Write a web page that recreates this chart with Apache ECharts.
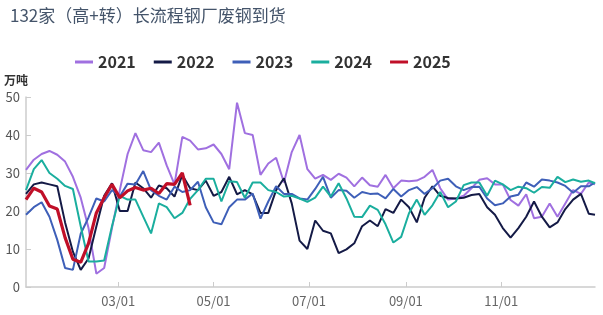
<!DOCTYPE html>
<html>
<head>
<meta charset="utf-8">
<script src="https://cdn.jsdelivr.net/npm/echarts@6/dist/echarts.min.js"></script>
<style>
html,body{margin:0;padding:0;background:#fff;}
#chart{width:603px;height:315px;}
</style>
</head>
<body>
<div id="chart"></div>
<script>
// sample dates (every 5 days, MM/DD)
const sampleDates = ['01/01','01/06','01/11','01/16','01/21','01/26','01/31','02/05','02/10','02/15',
  '02/20','02/25','03/02','03/07','03/12','03/17','03/22','03/27','04/01','04/06',
  '04/11','04/16','04/21','04/26','05/01','05/06','05/11','05/16','05/21','05/26',
  '05/31','06/05','06/10','06/15','06/20','06/25','06/30','07/05','07/10','07/15',
  '07/20','07/25','07/30','08/04','08/09','08/14','08/19','08/24','08/29','09/03',
  '09/08','09/13','09/18','09/23','09/28','10/03','10/08','10/13','10/18','10/23',
  '10/28','11/02','11/07','11/12','11/17','11/22','11/27','12/02','12/07','12/12',
  '12/17','12/22','12/27','12/31'];

const v2021 = [30.8,33.5,35,35.8,34.8,33,29,23.5,15.5,3.5,
  5,15.5,25.5,35,40.5,36,35.5,38,32,27,
  39.5,38.5,36.2,36.5,37.5,35,31,48.5,40.5,40,
  29.5,32.5,34,27.5,35.5,40,31,28.5,29.5,28.2,
  29.8,28.8,26.5,28.8,26.8,26.4,29.5,26,28,27.8,
  28,29,30.8,26,23,23.3,24,26,28.2,28.6,
  27,27,22.9,21.4,24.4,18.1,18.5,22,18.5,22,
  25.5,24.5,27.5,27];
const v2022 = [24.5,27,27.5,27,26.5,17,9.3,4.5,7.5,15.9,
  24,27.3,20,20,27.5,26,23.5,26.7,26,23.8,
  29.5,26,25.5,28,24,25,29,24.4,25.5,24.4,
  19.5,19.5,25.5,28.6,22,12.2,10,17.5,14.8,14.1,
  8.9,9.9,11.5,16,17.5,16,20.5,19.5,23,21,
  17,23.5,26.5,24,23.4,23.3,23.5,24.2,24.5,21,
  19,15.5,13,15.5,18.5,22.5,18.5,15.7,17,20.5,
  23,24.5,19.3,19];
const v2023 = [19,21,22.3,18.5,12.4,5,4.5,14,18.3,23.3,
  22.5,25.5,23.8,27.2,27,30.5,25.5,24,23,26.4,
  25,25.5,27.7,21,17,16.5,21,23,23,24.6,
  18,22.5,26.5,24.5,24.5,23.3,23,25.8,29,23.5,
  25.5,25.3,23.5,25,24.5,24.6,23.3,25.8,23.8,25.5,
  26.3,24.5,26,28,28.5,26.5,25.5,26.3,26.4,23.3,
  21.5,22,23.8,24.3,27.5,26.4,28.3,28,27.5,26.6,
  24.8,26.5,26.5,27.5];
const v2024 = [25.5,31,33.4,30,28.5,26.6,25.8,16,6.7,6.7,
  7,16,24,23,23,18.5,14.1,22,21,18.1,
  19.5,23.2,25.5,28.5,28.5,22.5,27.8,27.6,23.5,27.5,
  27.5,25.5,25,23.8,24,23.3,22.4,23.5,26.4,23.8,
  27.3,23.3,18.5,18.4,21.4,20.3,16.5,11.7,13.2,19.4,
  23,19,21.5,25,21,22.5,26.8,27.5,27.5,24,
  28,27,25.5,26.4,26,24.8,26.3,26.1,29,27.6,
  28.3,27.7,28,27.3];
const v2025 = [23,26,25,21.3,20.5,13,7.3,6.5,11.5,19.5,
  23.5,27,23.5,25.3,26.2,25.5,26,24.6,27.2,27,
  30,21.5];

const seriesNames = ['2021','2022','2023','2024','2025'];
const seriesValues = [v2021, v2022, v2023, v2024, v2025];
const tickLabels = ['03/01','05/01','07/01','09/01','11/01'];

// full day categories (non-leap year)
const monthDays = [31,28,31,30,31,30,31,31,30,31,30,31];
const categories = [];
monthDays.forEach((n, m) => {
  for (let d = 1; d <= n; d++) {
    categories.push(String(m + 1).padStart(2, '0') + '/' + String(d).padStart(2, '0'));
  }
});

const colors = ['#a070e0', '#141a46', '#3e5fb8', '#1aae9e', '#c00f28'];
const widths = [2, 2, 2, 2, 3.2];

const chart = echarts.init(document.getElementById('chart'));
const FONT = '"Noto Sans CJK SC", "Noto Sans", sans-serif';
const showTick = (i, v) => tickLabels.indexOf(v) >= 0;

chart.setOption({
  animation: false,
  textStyle: { fontFamily: FONT },
  title: {
    text: '132家（高+转）长流程钢厂废钢到货',
    left: 5, top: 2,
    textStyle: { fontSize: 17, fontWeight: 'normal', color: '#44546a', fontFamily: FONT }
  },
  legend: {
    data: seriesNames,
    left: 70, top: 49,
    icon: 'rect', itemWidth: 18, itemHeight: 3, itemGap: 18,
    textStyle: { fontSize: 16, fontWeight: 'bold', color: '#333', fontFamily: FONT }
  },
  grid: { left: 26, right: 8, top: 97, bottom: 28 },
  xAxis: {
    type: 'category',
    data: categories,
    boundaryGap: false,
    axisLine: { lineStyle: { color: '#cccccc', width: 1.5 } },
    axisTick: { show: true, inside: true, length: 5, interval: showTick, lineStyle: { color: '#cccccc' } },
    axisLabel: { interval: showTick, color: '#666', fontSize: 13, margin: 8, fontFamily: FONT },
    splitLine: { show: false }
  },
  yAxis: {
    type: 'value',
    min: 0, max: 50, interval: 10,
    name: '万吨',
    nameLocation: 'end',
    nameGap: 11,
    nameTextStyle: { color: '#333', fontSize: 12, fontWeight: 'bold', align: 'right', padding: [0, -2, 0, 0], fontFamily: FONT },
    axisLine: { show: true, lineStyle: { color: '#cccccc', width: 1.5 } },
    axisTick: { show: true, inside: true, length: 5, lineStyle: { color: '#cccccc' } },
    axisLabel: { color: '#555', fontSize: 13, margin: 6, fontFamily: FONT },
    splitLine: { show: false }
  },
  series: seriesNames.map((name, k) => ({
    name: name,
    type: 'line',
    data: seriesValues[k].map((v, i) => [sampleDates[i], v]),
    showSymbol: false,
    symbol: 'none',
    color: colors[k],
    lineStyle: { width: widths[k], color: colors[k] },
    z: 2 + k
  }))
});
</script>
</body>
</html>
